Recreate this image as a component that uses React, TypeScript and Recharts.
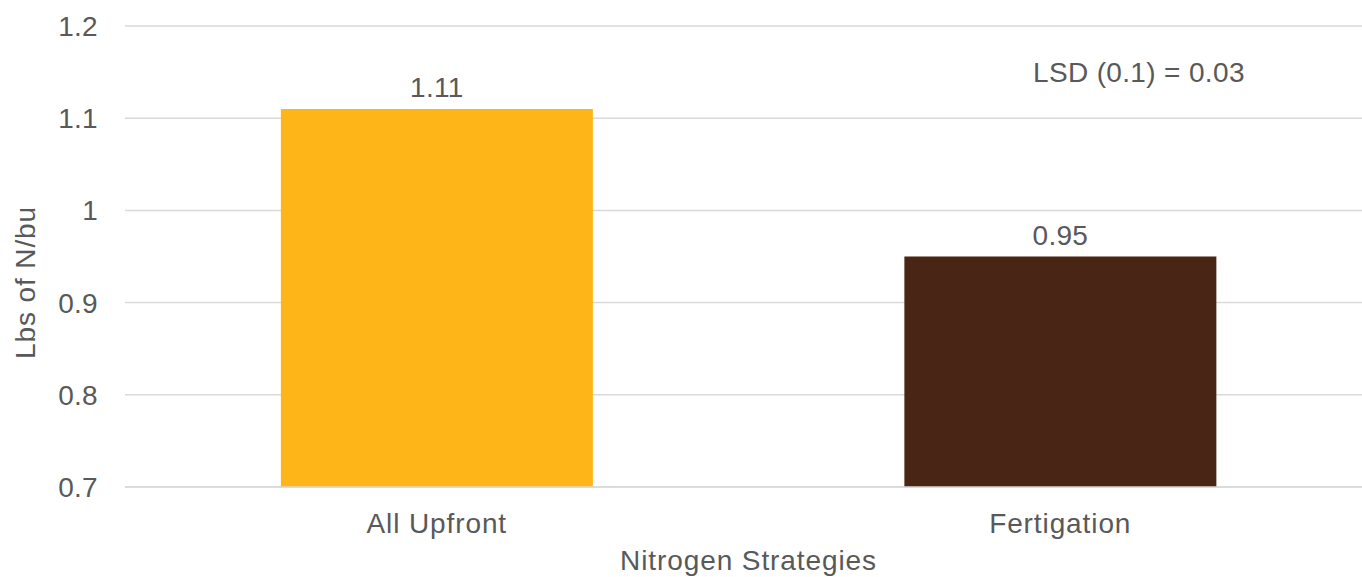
import { BarChart, Bar, XAxis, YAxis, CartesianGrid, Cell, LabelList } from "recharts";

const strategies = ["All Upfront", "Fertigation"];
const lbsPerBu = [1.11, 0.95];
const barColors = ["#FDB517", "#482514"];
const yTicks = [0.7, 0.8, 0.9, 1, 1.1, 1.2];

const data = strategies.map((name, i) => ({ name, value: lbsPerBu[i] }));

const FONT = "'Liberation Sans', Arial, Helvetica, sans-serif";
const TEXT = "#595959";

export default function App() {
  return (
    <div style={{ position: "absolute", left: 0, top: 0, width: 1362, height: 577, background: "#fff", fontFamily: FONT, overflow: "hidden" }}>
      <BarChart
        width={1372}
        height={577}
        data={data}
        margin={{ top: 26, right: 0, left: 0, bottom: 0 }}
        barCategoryGap="25%"
      >
        <CartesianGrid vertical={false} stroke="#d9d9d9" strokeWidth={1.5} />
        <XAxis
          dataKey="name"
          height={90}
          tickLine={false}
          axisLine={{ stroke: "#d9d9d9", strokeWidth: 1.5 }}
          tickMargin={20}
          tick={{ fontSize: 28, fill: TEXT, fontFamily: FONT, letterSpacing: 0.9 }}
          label={{ value: "Nitrogen Strategies", position: "insideBottom", offset: 7, fontSize: 28, fill: TEXT, fontFamily: FONT, letterSpacing: 0.9 }}
        />
        <YAxis
          type="number"
          domain={[0.7, 1.2]}
          ticks={yTicks}
          allowDataOverflow
          width={125}
          tickLine={false}
          axisLine={false}
          tickSize={0}
          tickMargin={27}
          tick={{ fontSize: 28, fill: TEXT, fontFamily: FONT, letterSpacing: 0.3 }}
          label={{ value: "Lbs of N/bu", angle: -90, position: "insideLeft", offset: 25, dy: 26, style: { textAnchor: "middle", letterSpacing: 0.9 }, fontSize: 28, fill: TEXT, fontFamily: FONT }}
        />
        <Bar dataKey="value" isAnimationActive={false}>
          {data.map((_, i) => (
            <Cell key={i} fill={barColors[i]} />
          ))}
          <LabelList dataKey="value" position="top" offset={12} style={{ fontSize: 28, fill: TEXT, fontFamily: FONT, letterSpacing: 0.3 }} />
        </Bar>
      </BarChart>
      <div style={{ position: "absolute", left: 1033, top: 57, fontSize: 28, color: TEXT, whiteSpace: "nowrap", letterSpacing: 0.35 }}>
        LSD (0.1) = 0.03
      </div>
    </div>
  );
}
